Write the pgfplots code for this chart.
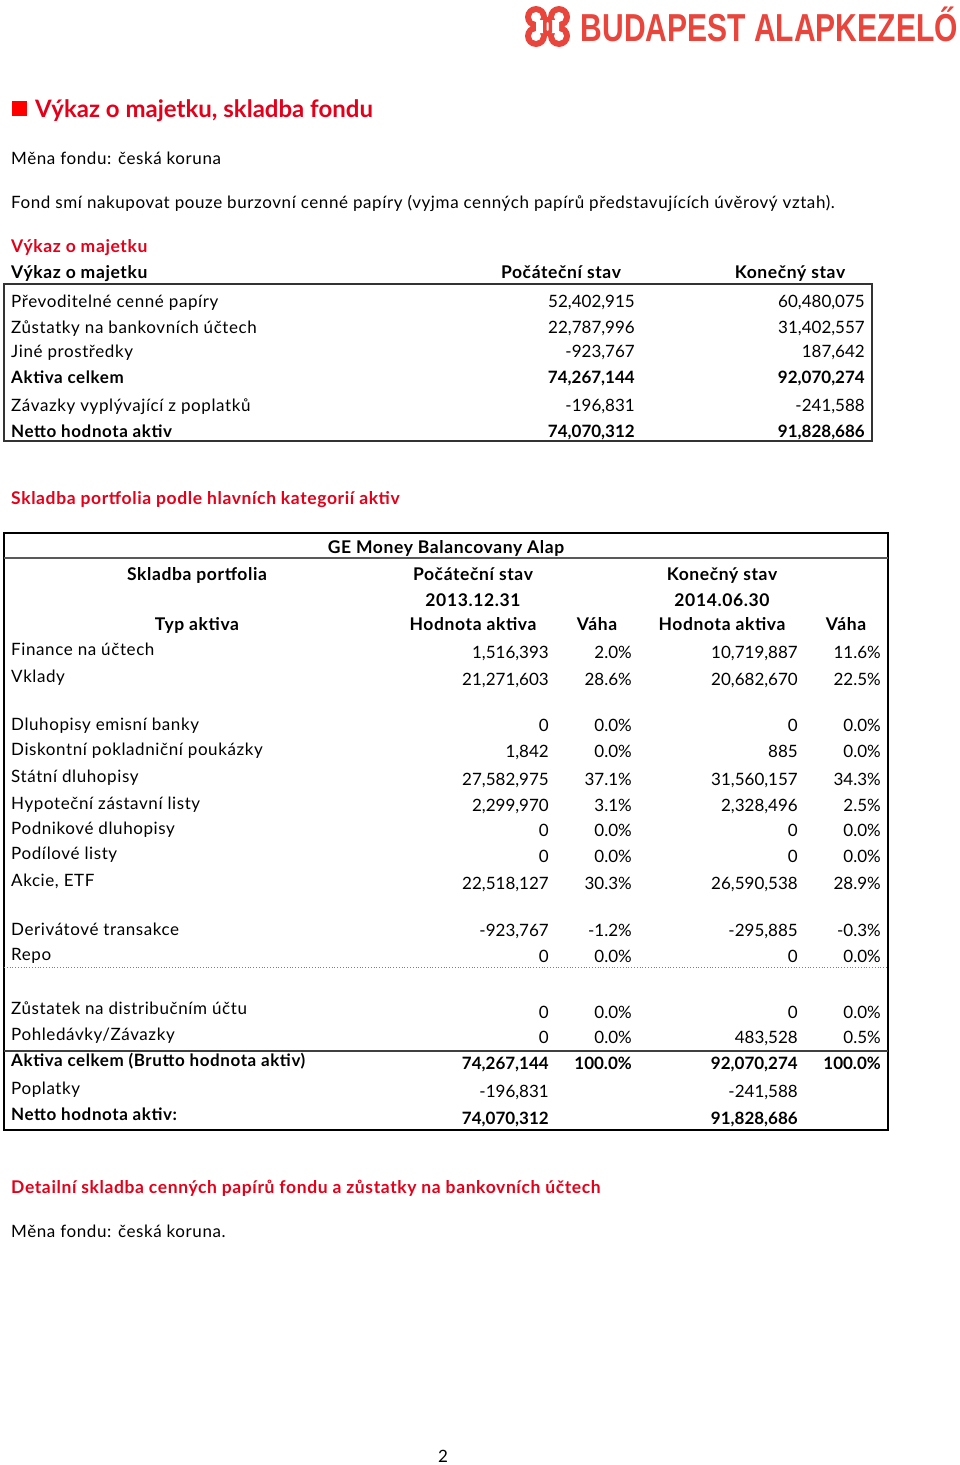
\documentclass[border=0pt]{standalone}
\usepackage{fontspec}
\setmainfont{Lato}[LetterSpace=3.5]
\newfontfamily\headfam{Lato}[LetterSpace=3.5]
\newfontfamily\plainfam{Lato}
\newfontfamily\logofont{Liberation Sans}
\usepackage{pgfplots}
\usepackage{pgfplotstable}
\pgfplotsset{compat=1.18}
\definecolor{hdred}{HTML}{E2001A}
\definecolor{logored}{HTML}{E8453C}
\definecolor{sqred}{HTML}{FF0000}

\newcommand{\bodyfont}{\fontsize{17}{19}\selectfont}
\newcommand{\numfont}{\plainfam\fontsize{17}{19}\selectfont}
\newcommand{\headfont}{\headfam\fontsize{17.5}{20}\selectfont\bfseries}

% Výkaz o majetku
\pgfplotstableread{
y label v1 v2
307 {Převoditelné cenné papíry} 52,402,915 60,480,075
333 {Zůstatky na bankovních účtech} 22,787,996 31,402,557
357 {Jiné prostředky} -923,767 187,642
411 {Závazky vyplývající z poplatků} -196,831 -241,588
}\vykaz
\pgfplotstableread{
y label v1 v2
383 {Aktiva celkem} 74,267,144 92,070,274
437 {Netto hodnota aktiv} 74,070,312 91,828,686
}\vykazbold

% Skladba portfolia (yl = label baseline, yv = value baseline)
\pgfplotstableread{
yl yv label v1 w1 v2 w2
655 658 {Finance na účtech} 1,516,393 2.0 10,719,887 11.6
682 685 {Vklady} 21,271,603 28.6 20,682,670 22.5
730 731 {Dluhopisy emisní banky} 0 0.0 0 0.0
755 757 {Diskontní pokladniční poukázky} 1,842 0.0 885 0.0
782 785 {Státní dluhopisy} 27,582,975 37.1 31,560,157 34.3
809 811 {Hypoteční zástavní listy} 2,299,970 3.1 2,328,496 2.5
834 836 {Podnikové dluhopisy} 0 0.0 0 0.0
859 862 {Podílové listy} 0 0.0 0 0.0
886 889 {Akcie, ETF} 22,518,127 30.3 26,590,538 28.9
935 936 {Derivátové transakce} -923,767 -1.2 -295,885 -0.3
960 962 {Repo} 0 0.0 0 0.0
1014 1018 {Zůstatek na distribučním účtu} 0 0.0 0 0.0
1040 1043 {Pohledávky/Závazky} 0 0.0 483,528 0.5
}\portf
\pgfplotstableread{
yl yv label v1 w1 v2 w2
1066 1069 {Aktiva celkem (Brutto hodnota aktiv)} 74,267,144 100.0 92,070,274 100.0
}\portfbold
\pgfplotstableread{
yl yv label v1 v2
1094 1097 {Poplatky} -196,831 -241,588
}\portffee
\pgfplotstableread{
yl yv label v1 v2
1120 1124 {Netto hodnota aktiv:} 74,070,312 91,828,686
}\portfnet

\pgfplotsset{
  txt/.style={only marks, mark=none, point meta=explicit symbolic,
    nodes near coords,
    nodes near coords align={anchor=base #1},
    nodes near coords style={inner sep=0pt, text=black}},
  lab/.style={txt=west, nodes near coords style={font=\bodyfont}},
  labb/.style={txt=west, nodes near coords style={font=\bodyfont\bfseries}},
  num/.style={txt=east, nodes near coords style={font=\numfont}},
  numb/.style={txt=east, nodes near coords style={font=\numfont\bfseries}},
  pct/.style={num, nodes near coords={\pgfplotspointmeta\%}},
  pctb/.style={numb, nodes near coords={\pgfplotspointmeta\%}},
}

\begin{document}
\begin{tikzpicture}
\begin{axis}[
  width=960pt, height=1465pt, scale only axis,
  xmin=0, xmax=960, ymin=0, ymax=1465, y dir=reverse,
  hide axis, clip=false,
]
\fill[white] (rel axis cs:0,0) rectangle (rel axis cs:1,1);

% logo mark
\fill[logored] (axis cs:536,17) circle[radius=11pt] (axis cs:559,17) circle[radius=11pt]
  (axis cs:536,36) circle[radius=11pt] (axis cs:559,36) circle[radius=11pt]
  (axis cs:536,17) rectangle (axis cs:559,36);
\fill[white] (axis cs:536,17) circle[radius=5pt] (axis cs:559,17) circle[radius=5pt]
  (axis cs:536,36) circle[radius=5pt] (axis cs:559,36) circle[radius=5pt]
  (axis cs:536,20) rectangle (axis cs:559,33);
\fill[logored, rounded corners=2pt] (axis cs:543,19) rectangle (axis cs:552,34);
\fill[white, rounded corners=1pt] (axis cs:546.5,22) rectangle (axis cs:548.5,31);
\node[anchor=base east, inner sep=0pt, text=logored] at (axis cs:958,41)
  {\scalebox{0.77}[1]{\logofont\fontsize{39}{40}\selectfont\bfseries BUDAPEST ALAPKEZELŐ}};

% heading
\fill[sqred] (axis cs:12,101) rectangle (axis cs:27,116);
\node[anchor=base west, inner sep=0pt, text=hdred, font=\plainfam\fontsize{24}{28}\selectfont\bfseries]
  at (axis cs:35,117) {Výkaz o majetku, skladba fondu};
\node[anchor=base west, inner sep=0pt, font=\bodyfont] at (axis cs:11,164) {Měna fondu: česká koruna};
\node[anchor=base west, inner sep=0pt, font=\bodyfont] at (axis cs:11,208)
  {Fond smí nakupovat pouze burzovní cenné papíry (vyjma cenných papírů představujících úvěrový vztah).};

% table 1
\node[anchor=base west, inner sep=0pt, text=hdred, font=\headfont] at (axis cs:11,252) {Výkaz o majetku};
\node[anchor=base west, inner sep=0pt, font=\headfont] at (axis cs:11,278) {Výkaz o majetku};
\node[anchor=base, inner sep=0pt, font=\headfont] at (axis cs:561,278) {Počáteční stav};
\node[anchor=base, inner sep=0pt, font=\headfont] at (axis cs:790,278) {Konečný stav};
\draw[line width=1.5pt, black!80] (axis cs:4,284) rectangle (axis cs:872,441);

\addplot[lab] table[x expr=11, y=y, meta=label] {\vykaz};
\addplot[num] table[x expr=635, y=y, meta=v1] {\vykaz};
\addplot[num] table[x expr=865, y=y, meta=v2] {\vykaz};
\addplot[labb] table[x expr=11, y=y, meta=label] {\vykazbold};
\addplot[numb] table[x expr=635, y=y, meta=v1] {\vykazbold};
\addplot[numb] table[x expr=865, y=y, meta=v2] {\vykazbold};

% table 2
\node[anchor=base west, inner sep=0pt, text=hdred, font=\headfont] at (axis cs:11,504)
  {Skladba portfolia podle hlavních kategorií aktiv};
\draw[line width=2pt] (axis cs:4,533) rectangle (axis cs:888,1130);
\draw[line width=1.2pt, black!65] (axis cs:4,558) -- (axis cs:888,558);
\draw[line width=0.8pt, gray, dotted] (axis cs:4,967) -- (axis cs:888,967);
\draw[line width=1.5pt, black!75] (axis cs:4,1051) -- (axis cs:888,1051);

\node[anchor=base, inner sep=0pt, font=\headfont] at (axis cs:446,553) {GE Money Balancovany Alap};
\node[anchor=base, inner sep=0pt, font=\headfont] at (axis cs:197,580) {Skladba portfolia};
\node[anchor=base, inner sep=0pt, font=\headfont] at (axis cs:473,580) {Počáteční stav};
\node[anchor=base, inner sep=0pt, font=\headfont] at (axis cs:722,580) {Konečný stav};
\node[anchor=base, inner sep=0pt, font=\headfont] at (axis cs:473,606) {2013.12.31};
\node[anchor=base, inner sep=0pt, font=\headfont] at (axis cs:722,606) {2014.06.30};
\node[anchor=base, inner sep=0pt, font=\headfont] at (axis cs:197,630) {Typ aktiva};
\node[anchor=base, inner sep=0pt, font=\headfont] at (axis cs:473,630) {Hodnota aktiva};
\node[anchor=base, inner sep=0pt, font=\headfont] at (axis cs:597,630) {Váha};
\node[anchor=base, inner sep=0pt, font=\headfont] at (axis cs:722,630) {Hodnota aktiva};
\node[anchor=base, inner sep=0pt, font=\headfont] at (axis cs:846,630) {Váha};

\addplot[lab] table[x expr=11, y=yl, meta=label] {\portf};
\addplot[num] table[x expr=549, y=yv, meta=v1] {\portf};
\addplot[pct] table[x expr=632, y=yv, meta=w1] {\portf};
\addplot[num] table[x expr=798, y=yv, meta=v2] {\portf};
\addplot[pct] table[x expr=881, y=yv, meta=w2] {\portf};

\addplot[labb] table[x expr=11, y=yl, meta=label] {\portfbold};
\addplot[numb] table[x expr=549, y=yv, meta=v1] {\portfbold};
\addplot[pctb] table[x expr=632, y=yv, meta=w1] {\portfbold};
\addplot[numb] table[x expr=798, y=yv, meta=v2] {\portfbold};
\addplot[pctb] table[x expr=881, y=yv, meta=w2] {\portfbold};

\addplot[lab] table[x expr=11, y=yl, meta=label] {\portffee};
\addplot[num] table[x expr=549, y=yv, meta=v1] {\portffee};
\addplot[num] table[x expr=798, y=yv, meta=v2] {\portffee};

\addplot[labb] table[x expr=11, y=yl, meta=label] {\portfnet};
\addplot[numb] table[x expr=549, y=yv, meta=v1] {\portfnet};
\addplot[numb] table[x expr=798, y=yv, meta=v2] {\portfnet};

% section 3
\node[anchor=base west, inner sep=0pt, text=hdred, font=\headfont] at (axis cs:11,1193)
  {Detailní skladba cenných papírů fondu a zůstatky na bankovních účtech};
\node[anchor=base west, inner sep=0pt, font=\bodyfont] at (axis cs:11,1237) {Měna fondu: česká koruna.};

\node[anchor=base, inner sep=0pt, font=\numfont] at (axis cs:443,1462) {2};
\end{axis}
\end{tikzpicture}
\end{document}
